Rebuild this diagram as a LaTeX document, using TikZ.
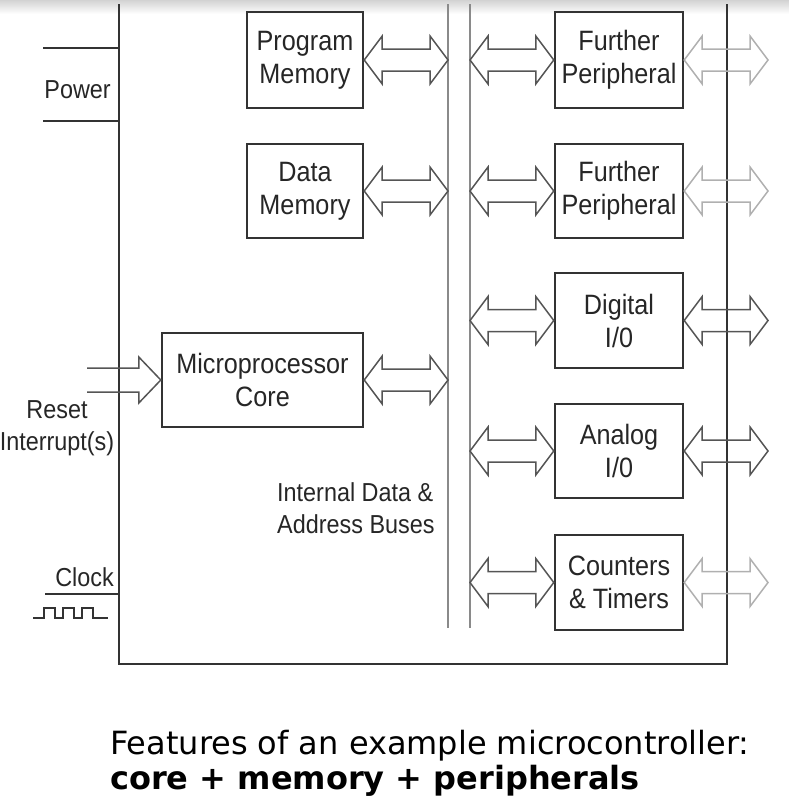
\documentclass[tikz,border=0pt]{standalone}
\usepackage{fontspec}
\setmainfont{Liberation Sans}
\newfontfamily\boxfont{Liberation Sans}[FakeStretch=0.9]
\newfontfamily\capfont{DejaVu Sans}
\usetikzlibrary{calc}
\definecolor{boxc}{HTML}{333333}
\definecolor{arrc}{HTML}{555555}
\definecolor{fadec}{HTML}{B0B0B0}
\definecolor{busc}{HTML}{8A8A8A}
\definecolor{txtc}{HTML}{262626}
\newcommand\dblarr[3][]{%
  \draw[harr,#1] let \p1=(#2), \p2=(#3) in
   (\x1,\y1) -- ++(18pt,24pt) -- ++(0,-13pt) -- (\x2-18pt,\y1+11pt) -- ++(0,13pt)
   -- (\x2,\y1) -- ++(-18pt,-24pt) -- ++(0,13pt) -- (\x1+18pt,\y1-11pt) -- ++(0,-13pt) -- cycle;}
\begin{document}
\begin{tikzpicture}[x=1pt,y=-1pt,
  blk/.style={draw=boxc, line width=2.4pt, inner sep=0pt, align=center, text=txtc,
     font=\boxfont\fontsize{28}{33}\selectfont},
  harr/.style={draw=arrc, line width=1.5pt, line join=miter},
  faded/.style={draw=fadec},
  lbl/.style={text=txtc, font=\boxfont\fontsize{26}{32}\selectfont, inner sep=0pt},
  frame/.style={draw=boxc, line width=2pt},
  bus/.style={draw=busc, line width=2pt},
  captxt/.style={font=\capfont\fontsize{32}{35}\selectfont, inner sep=0pt, anchor=base west}]
\useasboundingbox (0,0) rectangle (789,804);
\shade[top color=gray!35, bottom color=white] (0,0) rectangle (789,14);
% main frame
\draw[frame] (119,4) -- (119,664) -- (727,664) -- (727,4);
% buses
\coordinate (busL) at (448,0);
\coordinate (busR) at (470,0);
\coordinate (outX) at (768,0);
\draw[bus] (448,4) -- (448,628);
\draw[bus] (470,4) -- (470,628);
% blocks
\node[blk, minimum width=116pt, minimum height=96pt] (pm) at (305,60) {Program\\Memory};
\node[blk, minimum width=116pt, minimum height=94pt] (dm) at (305,191) {Data\\Memory};
\node[blk, minimum width=201pt, minimum height=94pt] (mc) at (262.5,380) {Microprocessor\\Core};
\node[blk, minimum width=128pt, minimum height=96pt] (fp1) at (619,60) {Further\\Peripheral};
\node[blk, minimum width=128pt, minimum height=94pt] (fp2) at (619,191) {Further\\Peripheral};
\node[blk, minimum width=128pt, minimum height=95pt] (dio) at (619,320.5) {Digital\\I/0};
\node[blk, minimum width=128pt, minimum height=94pt] (aio) at (619,451) {Analog\\I/0};
\node[blk, minimum width=128pt, minimum height=95pt] (ct) at (619,582.5) {Counters\\\& Timers};
% arrows to the bus
\dblarr{pm.east}{busL |- pm.east}
\dblarr{dm.east}{busL |- dm.east}
\dblarr{mc.east}{busL |- mc.east}
\dblarr{busR |- fp1.west}{fp1.west}
\dblarr{busR |- fp2.west}{fp2.west}
\dblarr{busR |- dio.west}{dio.west}
\dblarr{busR |- aio.west}{aio.west}
\dblarr{busR |- ct.west}{ct.west}
% outside arrows
\dblarr[faded]{fp1.east}{outX |- fp1.east}
\dblarr[faded]{fp2.east}{outX |- fp2.east}
\dblarr{dio.east}{outX |- dio.east}
\dblarr{aio.east}{outX |- aio.east}
\dblarr[faded]{ct.east}{outX |- ct.east}
% reset / interrupt arrow
\coordinate (rst) at (87,380);
\draw[harr] let \p1=(rst), \p2=(mc.west) in
  (\x1,\y2+12pt) -- (\x2-22pt,\y2+12pt) -- ++(0,11pt) -- (\x2,\y2)
  -- ++(-22pt,-23pt) -- ++(0,11pt) -- (\x1,\y2-12pt);
% power
\draw[frame] (43,48) -- (119,48);
\draw[frame] (43,121) -- (119,121);
\node[lbl, anchor=east] (pw) at (111,90) {Power};
% reset text
\node[lbl, align=center] (rt) at (57,428) {Reset\\Interrupt(s)};
% clock
\node[lbl, anchor=east] (clk) at (114,577) {Clock};
\draw[frame] (45,594) -- (119,594);
\draw[draw=boxc, line width=1.6pt] (33,618) -- (44,618) -- (44,608) -- (55,608) -- (55,618)
  -- (63,618) -- (63,608) -- (74,608) -- (74,618) -- (82,618) -- (82,608) -- (93,608)
  -- (93,618) -- (108,618);
% bus label
\node[lbl, align=left, anchor=west] (bl) at (277,508) {Internal Data \&\\Address Buses};
% caption
\node[captxt] (c1) at (110,754) {Features of an example microcontroller:};
\node[captxt, font=\capfont\bfseries\fontsize{32}{35}\selectfont] (c2) at (110,789) {core + memory + peripherals};
\end{tikzpicture}
\end{document}
